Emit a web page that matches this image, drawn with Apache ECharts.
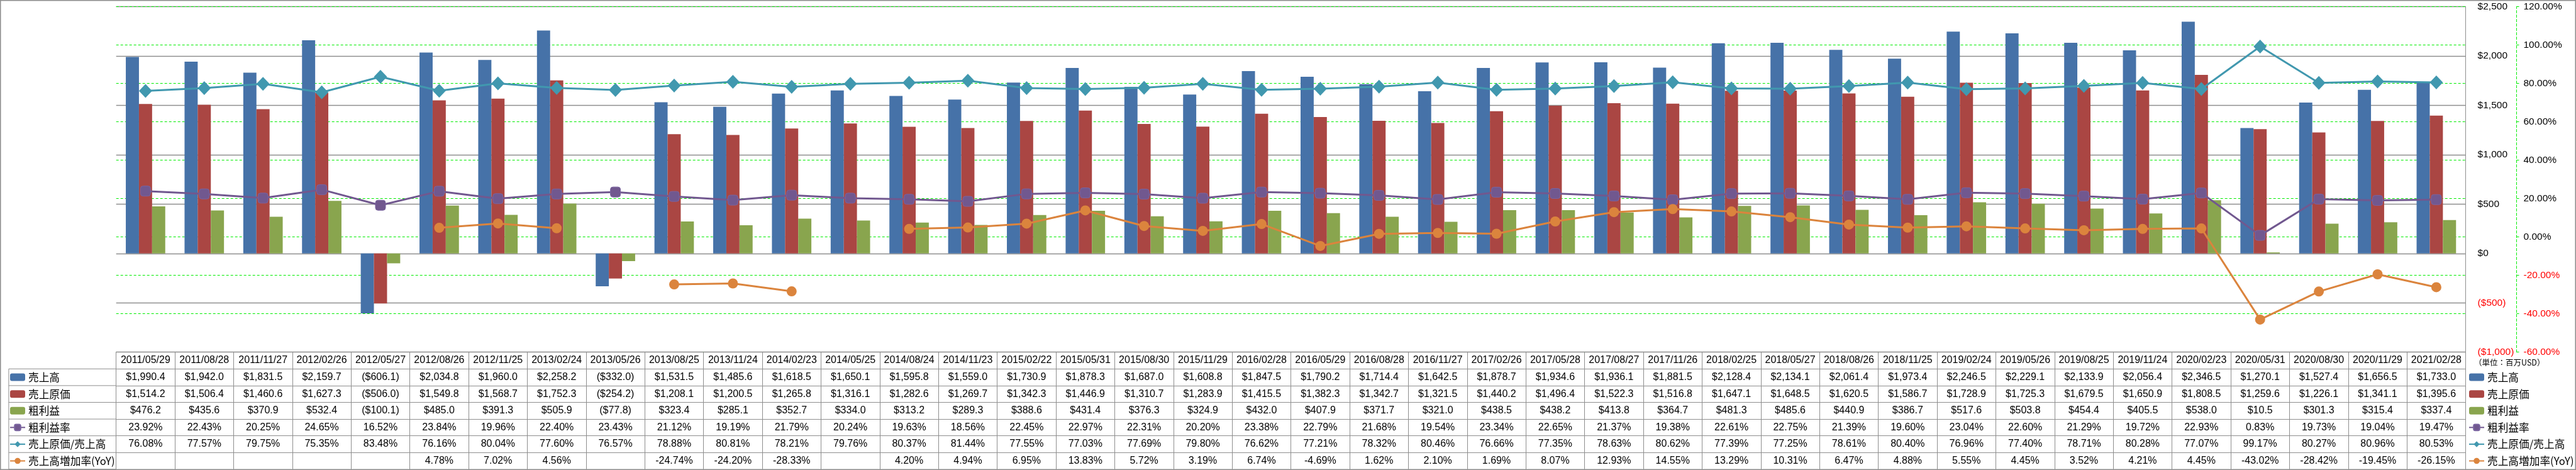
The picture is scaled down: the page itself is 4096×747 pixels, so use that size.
<!DOCTYPE html>
<html><head><meta charset="utf-8">
<script src="https://cdn.jsdelivr.net/npm/echarts@6/dist/echarts.min.js"></script>
<style>html,body{margin:0;padding:0;background:#fff}#c{width:4096px;height:747px}</style>
</head><body><div id="c"></div>
<script>
const categories = ['2011/05/29','2011/08/28','2011/11/27','2012/02/26','2012/05/27','2012/08/26','2012/11/25','2013/02/24','2013/05/26','2013/08/25','2013/11/24','2014/02/23','2014/05/25','2014/08/24','2014/11/23','2015/02/22','2015/05/31','2015/08/30','2015/11/29','2016/02/28','2016/05/29','2016/08/28','2016/11/27','2017/02/26','2017/05/28','2017/08/27','2017/11/26','2018/02/25','2018/05/27','2018/08/26','2018/11/25','2019/02/24','2019/05/26','2019/08/25','2019/11/24','2020/02/23','2020/05/31','2020/08/30','2020/11/29','2021/02/28'];
const sales = [1990.4,1942.0,1831.5,2159.7,-606.1,2034.8,1960.0,2258.2,-332.0,1531.5,1485.6,1618.5,1650.1,1595.8,1559.0,1730.9,1878.3,1687.0,1608.8,1847.5,1790.2,1714.4,1642.5,1878.7,1934.6,1936.1,1881.5,2128.4,2134.1,2061.4,1973.4,2246.5,2229.1,2133.9,2056.4,2346.5,1270.1,1527.4,1656.5,1733.0];
const cogs = [1514.2,1506.4,1460.6,1627.3,-506.0,1549.8,1568.7,1752.3,-254.2,1208.1,1200.5,1265.8,1316.1,1282.6,1269.7,1342.3,1446.9,1310.7,1283.9,1415.5,1382.3,1342.7,1321.5,1440.2,1496.4,1522.3,1516.8,1647.1,1648.5,1620.5,1586.7,1728.9,1725.3,1679.5,1650.9,1808.5,1259.6,1226.1,1341.1,1395.6];
const grossProfit = [476.2,435.6,370.9,532.4,-100.1,485.0,391.3,505.9,-77.8,323.4,285.1,352.7,334.0,313.2,289.3,388.6,431.4,376.3,324.9,432.0,407.9,371.7,321.0,438.5,438.2,413.8,364.7,481.3,485.6,440.9,386.7,517.6,503.8,454.4,405.5,538.0,10.5,301.3,315.4,337.4];
const grossMargin = [23.92,22.43,20.25,24.65,16.52,23.84,19.96,22.40,23.43,21.12,19.19,21.79,20.24,19.63,18.56,22.45,22.97,22.31,20.20,23.38,22.79,21.68,19.54,23.34,22.65,21.37,19.38,22.61,22.75,21.39,19.60,23.04,22.60,21.29,19.72,22.93,0.83,19.73,19.04,19.47];
const cogsRatio = [76.08,77.57,79.75,75.35,83.48,76.16,80.04,77.60,76.57,78.88,80.81,78.21,79.76,80.37,81.44,77.55,77.03,77.69,79.80,76.62,77.21,78.32,80.46,76.66,77.35,78.63,80.62,77.39,77.25,78.61,80.40,76.96,77.40,78.71,80.28,77.07,99.17,80.27,80.96,80.53];
const salesYoY = [null,null,null,null,null,4.78,7.02,4.56,null,-24.74,-24.20,-28.33,null,4.20,4.94,6.95,13.83,5.72,3.19,6.74,-4.69,1.62,2.10,1.69,8.07,12.93,14.55,13.29,10.31,6.47,4.88,5.55,4.45,3.52,4.21,4.45,-43.02,-28.42,-19.45,-26.15];
const seriesNames = ['売上高','売上原価','粗利益','粗利益率','売上原価/売上高','売上高増加率(YoY)'];
const usdTicks = {min:-1000, max:2500, interval:500};
const pctTicks = {min:-60, max:120, interval:20};
const unitText = '（単位：百万USD）';

const W = 4096, H = 747;
const gridL = 184.7, gridR = 3920.6, gridT = 10.5, gridB = 559.7;
const rowH = 26.59;
const borderC = '#8E8E8E';
const numFont = 'Liberation Sans';
const cjkFont = 'Noto Sans CJK JP';
const colors = ['#4672A8','#AA4643','#89A54E','#71588F','#4198AF','#DB843D'];

function fmtNum(v,d){ return Math.abs(v).toLocaleString('en-US',{minimumFractionDigits:d,maximumFractionDigits:d}); }
function money(v,d){ if(v==null) return ''; return v<0 ? '($'+fmtNum(v,d)+')' : '$'+fmtNum(v,d); }
function pct(v){ if(v==null) return ''; return v.toFixed(2)+'%'; }

const rows = [
  i => categories[i],
  i => money(sales[i],1),
  i => money(cogs[i],1),
  i => money(grossProfit[i],1),
  i => pct(grossMargin[i]),
  i => pct(cogsRatio[i]),
  i => pct(salesYoY[i])
];

const xAxes = rows.map((fmt,k) => ({
  type:'category', data:categories, gridIndex:0, position:'bottom', offset:k*rowH,
  axisLine:{show:true,onZero:false,lineStyle:{color:borderC,width:1}},
  axisTick:{show:true,interval:0,length:rowH,lineStyle:{color:borderC,width:1}},
  axisLabel:{show:true,interval:0,margin:rowH/2,verticalAlign:'middle',fontFamily:numFont,fontSize:16,color:'#000',
    formatter:(v,i)=>fmt(i)},
  splitLine:{show:false}
}));
xAxes.push({type:'category', data:categories, gridIndex:0, position:'bottom', offset:7*rowH,
  axisLine:{show:true,onZero:false,lineStyle:{color:borderC,width:1}},
  axisTick:{show:false}, axisLabel:{show:false}, splitLine:{show:false}});

// left label-column borders
const graphics = [];
const colL = 13.9;
for (let k=1;k<=7;k++){
  const y = gridB + k*rowH;
  graphics.push({type:'line',shape:{x1:colL,y1:y,x2:gridL,y2:y},style:{stroke:borderC,lineWidth:1},silent:true});
}
graphics.push({type:'line',shape:{x1:colL,y1:gridB+rowH,x2:colL,y2:gridB+7*rowH},style:{stroke:borderC,lineWidth:1},silent:true});
graphics.push({type:'rect',shape:{x:0.75,y:0.75,width:W-1.5,height:H-1.5},style:{fill:'none',stroke:borderC,lineWidth:1.5},silent:true,z:-1});
graphics.push({type:'text',left:3934,top:570,style:{text:unitText,font:'12.5px "'+cjkFont+'"',fill:'#000'},silent:true});

const legendBase = {
  orient:'vertical', itemGap:0, itemWidth:24, itemHeight:12, padding:0, selectedMode:false,
  textStyle:{fontFamily:cjkFont,fontSize:16.7,color:'#000',lineHeight:rowH},
  data:seriesNames
};

const option = {
  animation:false,
  backgroundColor:'#fff',
  color:colors,
  grid:{left:gridL, right:W-gridR, top:gridT, bottom:H-gridB, containLabel:false},
  legend:[
    Object.assign({}, legendBase, {left:15, top:gridB+rowH}),
    Object.assign({}, legendBase, {left:3925, top:gridB+rowH})
  ],
  xAxis:xAxes,
  yAxis:[
    {type:'value', position:'right', min:usdTicks.min, max:usdTicks.max, interval:usdTicks.interval,
     axisLine:{show:true,lineStyle:{color:borderC,width:1}}, axisTick:{show:false},
     axisLabel:{margin:19,fontFamily:numFont,fontSize:15.5,
       color:v=>(v<0?'#FF0000':'#000'), formatter:v=>money(v,0)},
     splitLine:{show:true,lineStyle:{color:borderC,width:1.4}}},
    {type:'value', position:'right', offset:80.9, min:pctTicks.min, max:pctTicks.max, interval:pctTicks.interval,
     axisLine:{show:true,lineStyle:{color:'#00EE00',width:1,type:[4,3]}},
     axisTick:{show:true,length:5.6,lineStyle:{color:'#00EE00',width:1,type:[4,3]}},
     axisLabel:{margin:11,fontFamily:numFont,fontSize:15.5,
       color:v=>(v<0?'#FF0000':'#000'), formatter:v=>v.toFixed(2)+'%'},
     splitLine:{show:true,lineStyle:{color:'#00EE00',width:1,type:[4,3]}}}
  ],
  graphic:graphics,
  series:[
    {name:seriesNames[0],type:'bar',yAxisIndex:0,barWidth:20.9,barGap:'0%',data:sales,itemStyle:{color:colors[0]}},
    {name:seriesNames[1],type:'bar',yAxisIndex:0,barWidth:20.9,barGap:'0%',data:cogs,itemStyle:{color:colors[1]}},
    {name:seriesNames[2],type:'bar',yAxisIndex:0,barWidth:20.9,barGap:'0%',data:grossProfit,itemStyle:{color:colors[2]}},
    {name:seriesNames[3],type:'line',yAxisIndex:1,data:grossMargin,symbol:'roundRect',symbolSize:16,showAllSymbol:true,
     lineStyle:{color:colors[3],width:3},itemStyle:{color:colors[3],borderColor:'#7A64A0',borderWidth:1},z:5},
    {name:seriesNames[4],type:'line',yAxisIndex:1,data:cogsRatio,symbol:'diamond',symbolSize:[21,22],showAllSymbol:true,
     lineStyle:{color:colors[4],width:3},itemStyle:{color:colors[4]},z:5},
    {name:seriesNames[5],type:'line',yAxisIndex:1,data:salesYoY,symbol:'circle',symbolSize:16,showAllSymbol:true,connectNulls:false,
     lineStyle:{color:colors[5],width:3},itemStyle:{color:colors[5]},z:5}
  ]
};
const chart = echarts.init(document.getElementById('c'), null, {renderer:'canvas', width:W, height:H});
chart.setOption(option);
</script></body></html>
